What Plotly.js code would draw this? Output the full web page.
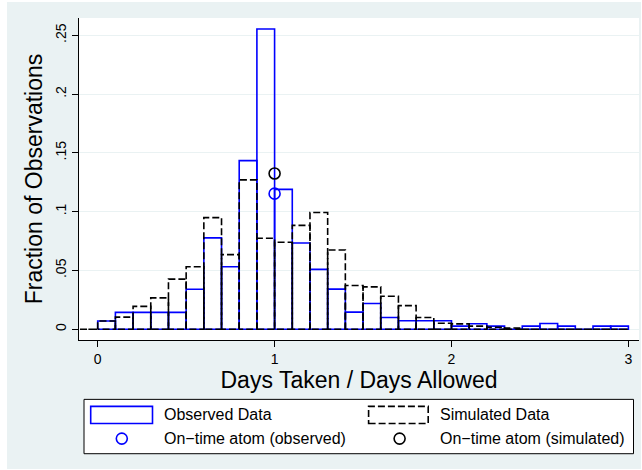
<!DOCTYPE html>
<html><head><meta charset="utf-8">
<script src="https://cdn.plot.ly/plotly-3.0.1.min.js"></script>
<style>html,body{margin:0;padding:0;background:#ffffff;} #chart{position:absolute;left:7px;top:2px;width:634px;height:467px;}</style>
</head><body><div id="chart"></div>
<script>
// ---- data ----
const binWidth = 0.1;
const obsBinLeft = [0,0.1,0.2,0.3,0.4,0.5,0.6,0.7,0.8,0.9,1.0,1.1,1.2,1.3,1.4,1.5,1.6,1.7,1.8,1.9,2.0,2.1,2.2,2.3,2.4,2.5,2.6,2.7,2.8,2.9];
const observed   = [0.0070,0.0143,0.0143,0.0143,0.0143,0.0340,0.0777,0.0531,0.1434,0.2554,0.1189,0.0733,0.0509,0.0341,0.0145,0.0218,0.0099,0.0072,0.0072,0.0072,0.0026,0.0046,0.0026,0,0.0026,0.0048,0.0026,0,0.0026,0.0026];
const simBinLeft = [-0.1,0,0.1,0.2,0.3,0.4,0.5,0.6,0.7,0.8,0.9,1.0,1.1,1.2,1.3,1.4,1.5,1.6,1.7,1.8,1.9,2.0,2.1,2.2,2.3,2.4,2.5,2.6,2.7,2.8,2.9];
const simulated  = [0,0.0070,0.0103,0.0194,0.0266,0.0426,0.0531,0.0949,0.0634,0.1270,0.0774,0.0740,0.0883,0.0993,0.0673,0.0372,0.0360,0.0280,0.0200,0.0100,0.0051,0.0045,0.0026,0.0017,0.0010,0,0,0,0,0,0];
const atomX = [1];
const atomObserved = [0.1153];
const atomSimulated = [0.1324];
const xTickVals = [0,1,2,3];
const xTickText = ['0','1','2','3'];
const yTickVals = [0,0.05,0.1,0.15,0.2,0.25];
const yTickText = ['0','.05','.1','.15','.2','.25'];
const legendLabels = ['Observed Data','Simulated Data','On\u2212time atom (observed)','On\u2212time atom (simulated)'];

// ---- build bar outlines (one closed rectangle per bin) ----
function outline(lefts, heights){
  const xs = [], ys = [];
  for (let i = 0; i < lefts.length; i++){
    const L = lefts[i], R = +(lefts[i] + binWidth).toFixed(4), h = heights[i];
    xs.push(L, L, R, R, L, null);
    ys.push(0, h, h, 0, 0, null);
  }
  return {x: xs, y: ys};
}
const obsPath = outline(obsBinLeft, observed);
const simPath = outline(simBinLeft, simulated);

const BLUE = '#0000FF';
const traces = [
  {type:'scatter', mode:'lines', x: obsPath.x, y: obsPath.y, connectgaps:false,
   line:{color:BLUE, width:1.6}, name:legendLabels[0], showlegend:false, hoverinfo:'skip'},
  {type:'scatter', mode:'lines', x: simPath.x, y: simPath.y, connectgaps:false,
   line:{color:'#000000', width:1.6, dash:'7px,3px'}, name:legendLabels[1], showlegend:false, hoverinfo:'skip'},
  {type:'scatter', mode:'markers', x: atomX, y: atomObserved, name:legendLabels[2], showlegend:false,
   marker:{symbol:'circle-open', size:11, color:BLUE, line:{width:1.6, color:BLUE}}},
  {type:'scatter', mode:'markers', x: atomX, y: atomSimulated, name:legendLabels[3], showlegend:false,
   marker:{symbol:'circle-open', size:11, color:'#000000', line:{width:1.6, color:'#000000'}}}
];

// ---- custom Stata-like legend (page pixel -> paper coords) ----
const PL = 79, PR = 639, PT = 18, PB = 338;
const px = a => (a - PL) / (PR - PL);
const py = a => (PB - a) / (PB - PT);
const row1 = 412.5, row2 = 436;
const shapes = [
  {type:'rect', xref:'paper', yref:'paper', x0:px(84), x1:px(633.5), y0:py(451), y1:py(397),
   line:{color:'#000000', width:1}, fillcolor:'#FFFFFF', layer:'above'},
  {type:'rect', xref:'paper', yref:'paper', x0:px(90.7), x1:px(152.5), y0:py(421), y1:py(404),
   line:{color:BLUE, width:1.6}, fillcolor:'rgba(0,0,0,0)', layer:'above'},
  {type:'rect', xref:'paper', yref:'paper', x0:px(368.6), x1:px(428.2), y0:py(421), y1:py(404),
   line:{color:'#000000', width:1.6, dash:'7px,3px'}, fillcolor:'rgba(0,0,0,0)', layer:'above'},
  {type:'circle', xref:'paper', yref:'paper', xsizemode:'pixel', ysizemode:'pixel',
   xanchor:px(121.8), yanchor:py(row2), x0:-5.5, x1:5.5, y0:-5.5, y1:5.5,
   line:{color:BLUE, width:1.6}, layer:'above'},
  {type:'circle', xref:'paper', yref:'paper', xsizemode:'pixel', ysizemode:'pixel',
   xanchor:px(399.6), yanchor:py(row2), x0:-5.5, x1:5.5, y0:-5.5, y1:5.5,
   line:{color:'#000000', width:1.6}, layer:'above'}
];
const legFont = {size:16, color:'#000000', family:'Liberation Sans, Arial, sans-serif'};
const annotations = [
  {text:legendLabels[0], x:px(162), y:py(row1)},
  {text:legendLabels[1], x:px(438), y:py(row1)},
  {text:legendLabels[2], x:px(162), y:py(row2)},
  {text:legendLabels[3], x:px(438), y:py(row2)}
].map(a => Object.assign({xref:'paper', yref:'paper', xanchor:'left', yanchor:'middle',
  showarrow:false, font:legFont}, a));

const layout = {
  width:634, height:467,
  margin:{l:72, r:2, t:16, b:129, pad:0},
  paper_bgcolor:'#EAF2F3', plot_bgcolor:'#FFFFFF',
  font:{family:'Liberation Sans, Arial, sans-serif', color:'#000000'},
  showlegend:false,
  xaxis:{range:[-0.1057, 3.06], tickvals:xTickVals, ticktext:xTickText,
    ticks:'outside', ticklen:6, tickwidth:1, tickcolor:'#000000',
    showline:true, linecolor:'#000000', linewidth:1, showgrid:false, zeroline:false,
    tickfont:{size:14}, title:{text:'Days Taken / Days Allowed', font:{size:23}, standoff:0}},
  yaxis:{range:[-0.0092, 0.2647], tickvals:yTickVals, ticktext:yTickText, tickangle:-90,
    ticks:'outside', ticklen:6, tickwidth:1, tickcolor:'#000000',
    showline:true, linecolor:'#000000', linewidth:1, showgrid:true, gridcolor:'#EAF2F3', gridwidth:1,
    zeroline:false, tickfont:{size:14}, title:{text:'Fraction of Observations', font:{size:23}, standoff:4}},
  shapes:shapes, annotations:annotations
};
Plotly.newPlot('chart', traces, layout, {displayModeBar:false, staticPlot:true});
</script></body></html>
